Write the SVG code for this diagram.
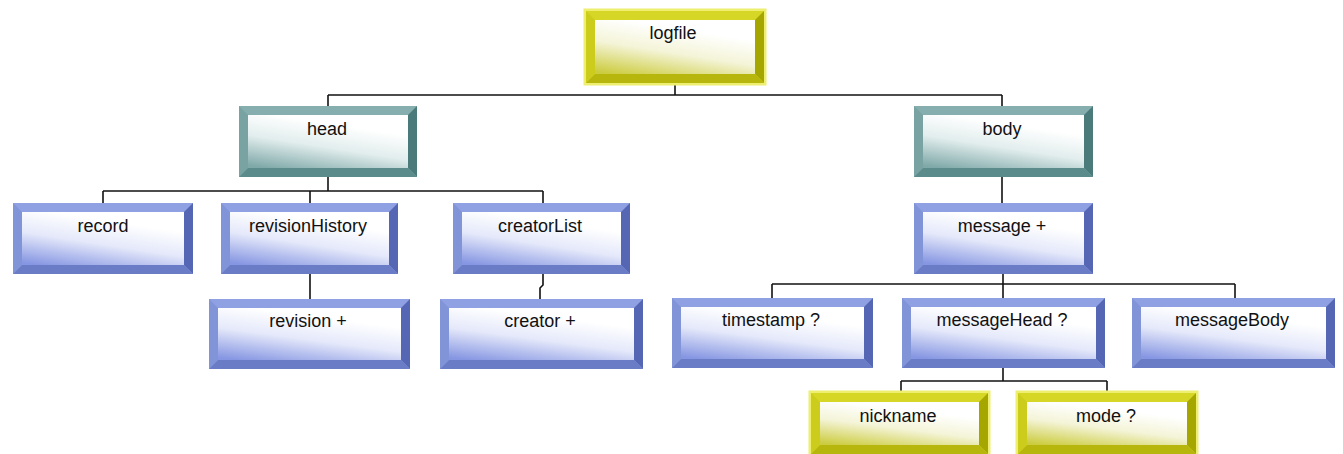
<svg xmlns="http://www.w3.org/2000/svg" width="1343" height="454" viewBox="0 0 1343 454">
<defs>
<linearGradient id="gBlue" x1="0.1" y1="1" x2="0.5" y2="0.15">
<stop offset="0" stop-color="#8696e2"/><stop offset="0.55" stop-color="#e4e8fa"/><stop offset="1" stop-color="#ffffff"/>
</linearGradient>
<linearGradient id="gTeal" x1="0.1" y1="1" x2="0.5" y2="0.15">
<stop offset="0" stop-color="#7fa8a8"/><stop offset="0.55" stop-color="#e2eded"/><stop offset="1" stop-color="#ffffff"/>
</linearGradient>
<linearGradient id="gYel" x1="0.1" y1="1" x2="0.5" y2="0.15">
<stop offset="0" stop-color="#cccc40"/><stop offset="0.55" stop-color="#f4f4d8"/><stop offset="1" stop-color="#ffffff"/>
</linearGradient>
</defs>
<style>
text{font-family:"Liberation Sans",Arial,sans-serif;font-size:18px;fill:#111;text-anchor:middle}
.blue .t{fill:#8fa1e2}.blue .l{fill:#8294d8}.blue .r{fill:#5567b4}.blue .b{fill:#6a7cc6}.blue .in{fill:url(#gBlue)}.blue .o{fill:none;stroke:#9aa6d0;stroke-width:1}
.teal .t{fill:#86aeae}.teal .l{fill:#79a2a2}.teal .r{fill:#4a7a7a}.teal .b{fill:#5b8b8b}.teal .in{fill:url(#gTeal)}.teal .o{fill:none;stroke:#8aa8a8;stroke-width:1}
.yel .t{fill:#d6d626}.yel .l{fill:#cccc1c}.yel .r{fill:#a6a600}.yel .b{fill:#b6b60c}.yel .in{fill:url(#gYel)}.yel .o{fill:none;stroke:#eeee70;stroke-width:3}
.conn line,.conn path{stroke:#111;stroke-width:1.6;fill:none}
</style>
<rect width="1343" height="454" fill="#ffffff"/>
<g class="conn" id="connectors">
<line x1="675" y1="83" x2="675" y2="95"/>
<line x1="328" y1="95" x2="1002" y2="95"/>
<line x1="328" y1="95" x2="328" y2="106"/>
<line x1="1002" y1="95" x2="1002" y2="106"/>
<line x1="328" y1="177" x2="328" y2="191"/>
<line x1="103" y1="191" x2="543" y2="191"/>
<line x1="103" y1="191" x2="103" y2="203"/>
<line x1="310" y1="191" x2="310" y2="203"/>
<line x1="543" y1="191" x2="543" y2="203"/>
<line x1="310" y1="274" x2="310" y2="299"/>
<path d="M543 274 V285 L540 288 V299"/>
<line x1="1002" y1="177" x2="1002" y2="203"/>
<line x1="1003" y1="274" x2="1003" y2="284"/>
<line x1="772" y1="284" x2="1235" y2="284"/>
<line x1="772" y1="284" x2="772" y2="298"/>
<line x1="1003" y1="284" x2="1003" y2="298"/>
<line x1="1235" y1="284" x2="1235" y2="298"/>
<line x1="1003" y1="368" x2="1003" y2="381"/>
<line x1="901" y1="381" x2="1107" y2="381"/>
<line x1="901" y1="381" x2="901" y2="393"/>
<line x1="1107" y1="381" x2="1107" y2="393"/>
</g>
<g id="logfile" class="yel" transform="translate(586,11)">
<rect class="o" x="-1" y="-1" width="180" height="74"/>
<rect class="t" width="178" height="72"/>
<polygon class="l" points="0,0 9,9 9,63 0,72"/>
<polygon class="r" points="178,0 169,9 169,63 178,72"/>
<polygon class="b" points="0,72 9,63 169,63 178,72"/>
<rect class="in" x="9" y="9" width="160" height="54"/>
<text x="87" y="28">logfile</text>
</g>
<g id="head" class="teal" transform="translate(239,106)">
<rect class="t" width="178" height="71"/>
<polygon class="l" points="0,0 9,9 9,62 0,71"/>
<polygon class="r" points="178,0 169,9 169,62 178,71"/>
<polygon class="b" points="0,71 9,62 169,62 178,71"/>
<rect class="in" x="9" y="9" width="160" height="53"/>
<text x="88" y="29">head</text>
</g>
<g id="body" class="teal" transform="translate(914,106)">
<rect class="t" width="179" height="71"/>
<polygon class="l" points="0,0 9,9 9,62 0,71"/>
<polygon class="r" points="179,0 170,9 170,62 179,71"/>
<polygon class="b" points="0,71 9,62 170,62 179,71"/>
<rect class="in" x="9" y="9" width="161" height="53"/>
<text x="88" y="29">body</text>
</g>
<g id="record" class="blue" transform="translate(13,203)">
<rect class="t" width="180" height="71"/>
<polygon class="l" points="0,0 9,9 9,62 0,71"/>
<polygon class="r" points="180,0 171,9 171,62 180,71"/>
<polygon class="b" points="0,71 9,62 171,62 180,71"/>
<rect class="in" x="9" y="9" width="162" height="53"/>
<text x="90" y="29">record</text>
</g>
<g id="revisionHistory" class="blue" transform="translate(221,203)">
<rect class="t" width="177" height="71"/>
<polygon class="l" points="0,0 9,9 9,62 0,71"/>
<polygon class="r" points="177,0 168,9 168,62 177,71"/>
<polygon class="b" points="0,71 9,62 168,62 177,71"/>
<rect class="in" x="9" y="9" width="159" height="53"/>
<text x="87" y="29">revisionHistory</text>
</g>
<g id="creatorList" class="blue" transform="translate(453,203)">
<rect class="t" width="177" height="71"/>
<polygon class="l" points="0,0 9,9 9,62 0,71"/>
<polygon class="r" points="177,0 168,9 168,62 177,71"/>
<polygon class="b" points="0,71 9,62 168,62 177,71"/>
<rect class="in" x="9" y="9" width="159" height="53"/>
<text x="87" y="29">creatorList</text>
</g>
<g id="message" class="blue" transform="translate(914,203)">
<rect class="t" width="179" height="71"/>
<polygon class="l" points="0,0 9,9 9,62 0,71"/>
<polygon class="r" points="179,0 170,9 170,62 179,71"/>
<polygon class="b" points="0,71 9,62 170,62 179,71"/>
<rect class="in" x="9" y="9" width="161" height="53"/>
<text x="88" y="29">message +</text>
</g>
<g id="revision" class="blue" transform="translate(209,299)">
<rect class="t" width="201" height="70"/>
<polygon class="l" points="0,0 9,9 9,61 0,70"/>
<polygon class="r" points="201,0 192,9 192,61 201,70"/>
<polygon class="b" points="0,70 9,61 192,61 201,70"/>
<rect class="in" x="9" y="9" width="183" height="52"/>
<text x="99" y="28">revision +</text>
</g>
<g id="creator" class="blue" transform="translate(440,299)">
<rect class="t" width="203" height="70"/>
<polygon class="l" points="0,0 9,9 9,61 0,70"/>
<polygon class="r" points="203,0 194,9 194,61 203,70"/>
<polygon class="b" points="0,70 9,61 194,61 203,70"/>
<rect class="in" x="9" y="9" width="185" height="52"/>
<text x="100" y="28">creator +</text>
</g>
<g id="timestamp" class="blue" transform="translate(672,298)">
<rect class="t" width="201" height="70"/>
<polygon class="l" points="0,0 9,9 9,61 0,70"/>
<polygon class="r" points="201,0 192,9 192,61 201,70"/>
<polygon class="b" points="0,70 9,61 192,61 201,70"/>
<rect class="in" x="9" y="9" width="183" height="52"/>
<text x="99" y="28">timestamp ?</text>
</g>
<g id="messageHead" class="blue" transform="translate(902,298)">
<rect class="t" width="203" height="70"/>
<polygon class="l" points="0,0 9,9 9,61 0,70"/>
<polygon class="r" points="203,0 194,9 194,61 203,70"/>
<polygon class="b" points="0,70 9,61 194,61 203,70"/>
<rect class="in" x="9" y="9" width="185" height="52"/>
<text x="100" y="28">messageHead ?</text>
</g>
<g id="messageBody" class="blue" transform="translate(1132,298)">
<rect class="t" width="203" height="70"/>
<polygon class="l" points="0,0 9,9 9,61 0,70"/>
<polygon class="r" points="203,0 194,9 194,61 203,70"/>
<polygon class="b" points="0,70 9,61 194,61 203,70"/>
<rect class="in" x="9" y="9" width="185" height="52"/>
<text x="100" y="28">messageBody</text>
</g>
<g id="nickname" class="yel" transform="translate(811,393)">
<rect class="o" x="-1" y="-1" width="179" height="63"/>
<rect class="t" width="177" height="61"/>
<polygon class="l" points="0,0 9,9 9,52 0,61"/>
<polygon class="r" points="177,0 168,9 168,52 177,61"/>
<polygon class="b" points="0,61 9,52 168,52 177,61"/>
<rect class="in" x="9" y="9" width="159" height="43"/>
<text x="87" y="29">nickname</text>
</g>
<g id="mode" class="yel" transform="translate(1018,393)">
<rect class="o" x="-1" y="-1" width="180" height="63"/>
<rect class="t" width="178" height="61"/>
<polygon class="l" points="0,0 9,9 9,52 0,61"/>
<polygon class="r" points="178,0 169,9 169,52 178,61"/>
<polygon class="b" points="0,61 9,52 169,52 178,61"/>
<rect class="in" x="9" y="9" width="160" height="43"/>
<text x="88" y="29">mode ?</text>
</g>
</svg>
